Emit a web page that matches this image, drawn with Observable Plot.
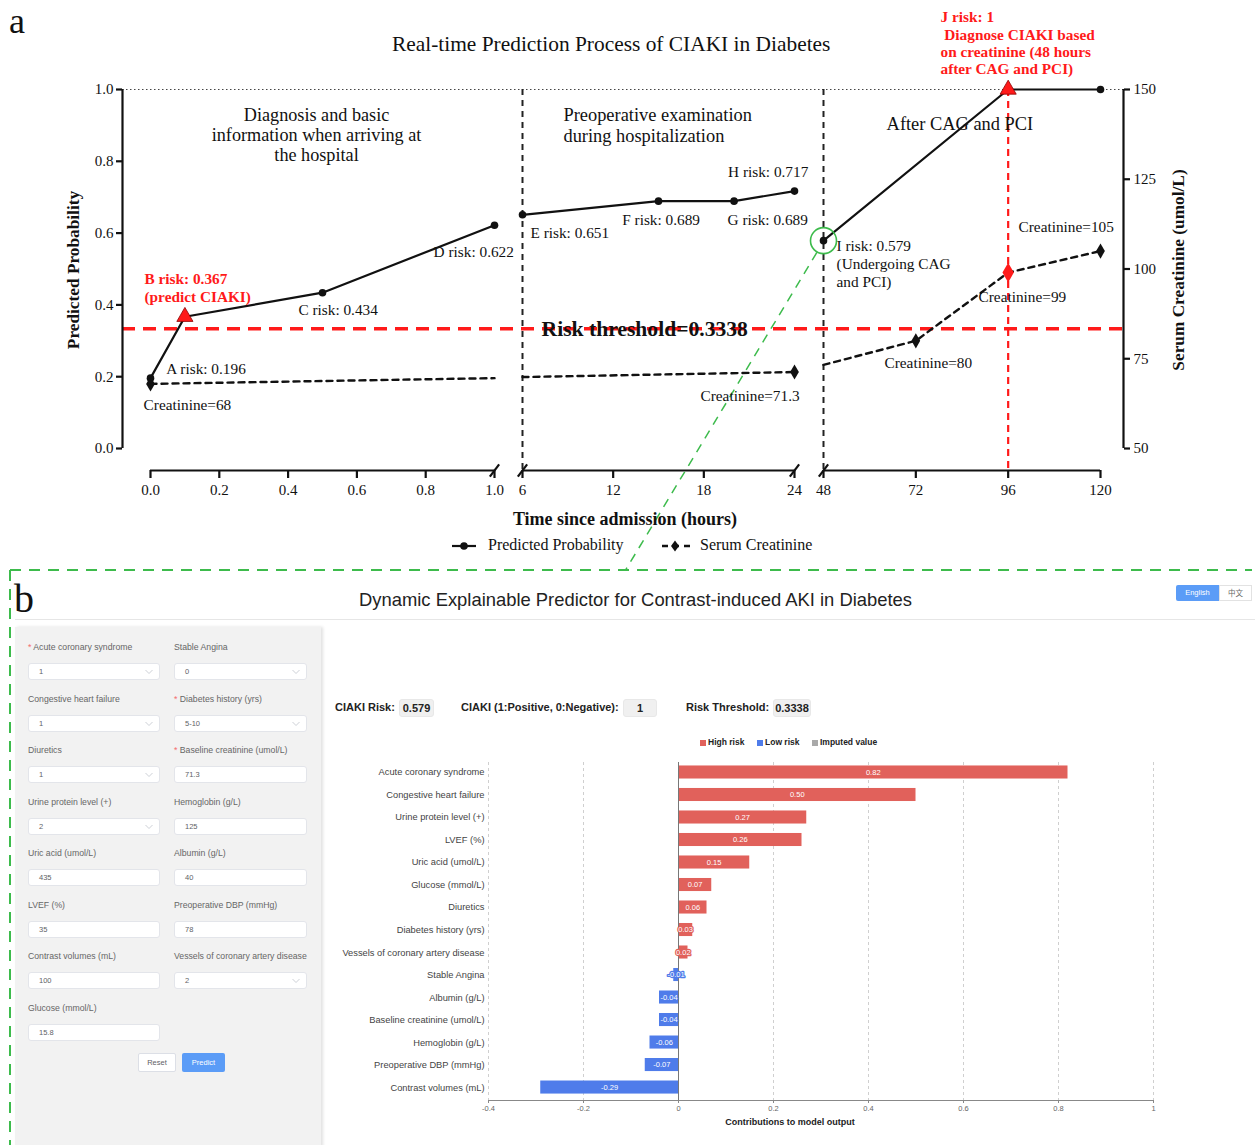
<!DOCTYPE html>
<html><head><meta charset="utf-8">
<script src="https://cdn.jsdelivr.net/npm/d3@7"></script>
<script src="https://cdn.jsdelivr.net/npm/@observablehq/plot@0.6"></script>
<style>
body{margin:0;background:#fff;}
#page{position:relative;width:1255px;height:1145px;overflow:hidden;background:#fff;font-family:"Liberation Sans",Arial,sans-serif;}
.abs{position:absolute;white-space:pre;}
.serif{font-family:"Liberation Serif","Times New Roman",serif;}
.flabel{font-size:8.7px;color:#666;}
.fbox{position:absolute;height:17px;background:#fff;border:1px solid #e3e5ea;border-radius:3px;box-sizing:border-box;font-size:7.5px;color:#606266;line-height:15px;padding-left:10px;}
.rlab{font-size:11px;font-weight:bold;color:#222;}
.rbox{position:absolute;height:18px;background:#f0f0f0;border:1px solid #e8e8e8;border-radius:3px;box-sizing:border-box;font-size:11px;font-weight:bold;color:#222;line-height:16px;text-align:center;}
</style></head>
<body><div id="page"></div>
<script>
// ---------------- data: panel a ----------------
const probTime  = [0, 0.1, 0.5, 1, 6, 15, 20, 24, 48, 96, 120];
const probValue = [0.196, 0.367, 0.434, 0.622, 0.651, 0.689, 0.689, 0.717, 0.579, 1, 1];
const probPhase = [1, 1, 1, 1, 2, 2, 2, 2, 3, 3, 3];
const probKey   = ["A", "B", "C", "D", "E", "F", "G", "H", "I", "J", ""];
const alertKeys = ["B", "J"];
const focusKey  = "I";

const creatTime     = [0, 1, 6, 24, 48, 72, 96, 120];
const creatValue    = [68, 69.6, 69.9, 71.3, 73.3, 80, 99, 105];
const creatPhase    = [1, 1, 2, 2, 3, 3, 3, 3];
const creatMeasured = [true, false, false, true, false, true, true, true];
const creatAlertTime = 96;

const riskThreshold = 0.3338;
const phaseBreaks = [6, 48];
const diagnosisTime = 96;
const xTicks = [0, 0.2, 0.4, 0.6, 0.8, 1.0, 6, 12, 18, 24, 48, 72, 96, 120];
const axisSegFrom = [0, 6, 48];
const axisSegTo   = [1, 24, 120];
const axisBreaks  = [1, 6, 24, 48];
const yTicks = [0, 0.2, 0.4, 0.6, 0.8, 1.0];
const creatTicks = [50, 75, 100, 125, 150];

// annotation texts with anchor (time, probability)
const noteText = ["A risk: 0.196", "Creatinine=68", "C risk: 0.434", "D risk: 0.622", "E risk: 0.651",
  "F risk: 0.689", "G risk: 0.689", "H risk: 0.717", "I risk: 0.579\n(Undergoing CAG\nand PCI)",
  "Creatinine=71.3", "Creatinine=80", "Creatinine=99", "Creatinine=105"];
const noteTime = [0.046, -0.02, 0.43, 0.823, 6.53, 12.6, 19.57, 19.6, 51.4, 17.78, 63.86, 88.3, 98.7];
const noteProb = [0.241, 0.143, 0.408, 0.567, 0.620, 0.656, 0.656, 0.790, 0.584, 0.1685, 0.258, 0.444, 0.639];

const alertText = ["B risk: 0.367\n(predict CIAKI)", "J risk: 1\n Diagnose CIAKI based\non creatinine (48 hours\nafter CAG and PCI)"];
const alertTime = [-0.0174, 78.41];
const alertProb = [0.4916, 1.2214];

const phaseText = ["Diagnosis and basic\ninformation when arriving at\nthe hospital", "Preoperative examination\nduring hospitalization", "After CAG and PCI"];
const phaseTime = [0.4826, 8.71, 64.4];
const phaseProb = [0.951, 0.951, 0.926];
const phaseAnchor = ["middle", "start", "start"];

const thresholdLabel = "Risk threshold=0.3338";
const thresholdLabelTime = 7.26;

// connector from circled point I to panel b
const connFrom = {time: 42.5, prob: 0.546};
const connTo = {time: 12.8, prob: -0.34};

// ---------------- data: panel b ----------------
const features = ["Acute coronary syndrome", "Congestive heart failure", "Urine protein level (+)", "LVEF (%)",
  "Uric acid (umol/L)", "Glucose (mmol/L)", "Diuretics", "Diabetes history (yrs)",
  "Vessels of coronary artery disease", "Stable Angina", "Albumin (g/L)", "Baseline creatinine (umol/L)",
  "Hemoglobin (g/L)", "Preoperative DBP (mmHg)", "Contrast volumes (mL)"];
const contributions = [0.82, 0.50, 0.27, 0.26, 0.15, 0.07, 0.06, 0.03, 0.02, -0.01, -0.04, -0.04, -0.06, -0.07, -0.29];
const barTicks = [-0.4, -0.2, 0, 0.2, 0.4, 0.6, 0.8, 1];
const riskClasses = ["High risk", "Low risk", "Imputed value"];

const formLabels = ["Acute coronary syndrome", "Stable Angina", "Congestive heart failure", "Diabetes history (yrs)",
  "Diuretics", "Baseline creatinine (umol/L)", "Urine protein level (+)", "Hemoglobin (g/L)",
  "Uric acid (umol/L)", "Albumin (g/L)", "LVEF (%)", "Preoperative DBP (mmHg)",
  "Contrast volumes (mL)", "Vessels of coronary artery disease", "Glucose (mmol/L)"];
const formValues = ["1", "0", "1", "5-10", "1", "71.3", "2", "125", "435", "40", "35", "78", "100", "2", "15.8"];
const formSelect = [true, true, true, true, true, false, true, false, false, false, false, false, false, true, false];
const formRequired = [true, false, false, true, false, true, false, false, false, false, false, false, false, false, false];

const resultLabels = ["CIAKI Risk:", "CIAKI (1:Positive, 0:Negative):", "Risk Threshold:"];
const resultValues = ["0.579", "1", "0.3338"];

// ---------------- styles ----------------
const RED = "#ff1a1a";
const GREEN = "#3dbb4c";
const BAR_RED = "#e1615b";
const BAR_BLUE = "#4f7cea";
const SERIF = "'Liberation Serif','Times New Roman',serif";

const page = document.getElementById("page");
function add(html) { page.insertAdjacentHTML("beforeend", html); }

// ================= PANEL A =================
const probRows = probTime.map((t, i) => ({time: t, prob: probValue[i], phase: probPhase[i], key: probKey[i]}));
const creatRows = creatTime.map((t, i) => ({time: t, value: creatValue[i], phase: creatPhase[i], measured: creatMeasured[i]}));
const noteRows = noteText.map((s, i) => ({text: s, time: noteTime[i], prob: noteProb[i]}));
const alertRows = alertText.map((s, i) => ({text: s, time: alertTime[i], prob: alertProb[i]}));
const phaseRows = phaseText.map((s, i) => ({text: s, time: phaseTime[i], prob: phaseProb[i], anchor: phaseAnchor[i]}));
const segRows = axisSegFrom.map((f, i) => ({from: f, to: axisSegTo[i]}));

const frameA = {width: 1255, height: 570, marginTop: 89, marginBottom: 100, marginLeft: 122, marginRight: 132};
const xA = {type: "linear", domain: [0, 1, 6, 24, 48, 120], range: [150, 494, 522, 794, 823, 1100]};
const breakSymbol = {draw(ctx, size) { const s = Math.sqrt(size) / 2; ctx.moveTo(-s * 0.75, s); ctx.lineTo(s * 0.75, -s); }};

const plotA = Plot.plot({
  ...frameA,
  style: {background: "transparent", fontFamily: SERIF, overflow: "visible", color: "#111"},
  x: xA,
  y: {domain: [0, 1], insetBottom: 22},
  marks: [
    Plot.ruleY([1], {stroke: "#444", strokeWidth: 1, strokeDasharray: "1.5,2.5"}),
    Plot.ruleX(phaseBreaks, {stroke: "#222", strokeWidth: 2, strokeDasharray: "6,5"}),
    Plot.ruleX([diagnosisTime], {stroke: RED, strokeWidth: 2.2, strokeDasharray: "7,5"}),
    Plot.ruleY([riskThreshold], {stroke: RED, strokeWidth: 3.5, strokeDasharray: "13,8"}),
    // broken x axis
    Plot.ruleY(segRows, {x1: "from", x2: "to", y: () => 0, dy: 22, stroke: "#111", strokeWidth: 2.2}),
    Plot.dot(axisBreaks, {x: d => d, y: () => 0, dy: 22, symbol: breakSymbol, r: 7, fill: "none", stroke: "#111", strokeWidth: 2.2}),
    Plot.axisX({ticks: xTicks, tickFormat: d => d <= 1 ? d.toFixed(1) : String(d), tickSize: 8, tickPadding: 6, strokeWidth: 2.2, fontSize: 15, fill: "#111", label: null}),
    // left axis
    Plot.ruleX([0], {y1: 0, y2: 1, dx: -28, stroke: "#111", strokeWidth: 2.2}),
    Plot.axisY({ticks: yTicks, tickFormat: d3.format(".1f"), tickSize: 6, tickPadding: 3, strokeWidth: 2.2, fontSize: 15, fill: "#111", label: null}),
    // connector to panel b
    Plot.link([{a: connFrom, b: connTo}], {x1: d => d.a.time, y1: d => d.a.prob, x2: d => d.b.time, y2: d => d.b.prob, stroke: GREEN, strokeWidth: 1.5, strokeDasharray: "9,7"}),
    // predicted probability series
    Plot.line(probRows, {x: "time", y: "prob", z: "phase", stroke: "#111", strokeWidth: 2.2}),
    Plot.dot(probRows.filter(d => !alertKeys.includes(d.key)), {x: "time", y: "prob", r: 3.8, fill: "#111"}),
    Plot.dot(probRows.filter(d => alertKeys.includes(d.key)), {x: "time", y: "prob", symbol: "triangle", r: 6, fill: RED, stroke: "#8b0000", strokeWidth: 0.8}),
    Plot.dot(probRows.filter(d => d.key === focusKey), {x: "time", y: "prob", r: 13, fill: "none", stroke: GREEN, strokeWidth: 1.6}),
    // annotations
    Plot.text(phaseRows.filter(d => d.anchor === "middle"), {x: "time", y: "prob", text: "text", textAnchor: "middle", lineAnchor: "top", fontSize: 18.2, lineHeight: 1.1, fill: "#111"}),
    Plot.text(phaseRows.filter(d => d.anchor === "start"), {x: "time", y: "prob", text: "text", textAnchor: "start", lineAnchor: "top", fontSize: 18.4, lineHeight: 1.1, fill: "#111"}),
    Plot.text(noteRows, {x: "time", y: "prob", text: "text", textAnchor: "start", lineAnchor: "top", fontSize: 15.3, lineHeight: 1.15, fill: "#111"}),
    Plot.text(alertRows, {x: "time", y: "prob", text: "text", textAnchor: "start", lineAnchor: "top", fontSize: 15.3, fontWeight: "bold", lineHeight: 1.13, fill: RED}),
    Plot.text([thresholdLabel], {x: () => thresholdLabelTime, y: () => riskThreshold, text: d => d, textAnchor: "start", fontSize: 21.6, fontWeight: "bold", fill: "#111"}),
    // axis titles
    Plot.text(["Predicted Probability"], {frameAnchor: "left", text: d => d, textAnchor: "middle", rotate: -90, dx: -49, dy: -10, fontSize: 17.3, fontWeight: "bold", fill: "#111"}),
    Plot.text(["Time since admission (hours)"], {frameAnchor: "bottom", text: d => d, textAnchor: "middle", dx: 2, dy: 54, fontSize: 18, fontWeight: "bold", fill: "#111"})
  ]
});

const plotA2 = Plot.plot({
  ...frameA,
  style: {background: "transparent", fontFamily: SERIF, overflow: "visible", color: "#111"},
  x: {...xA, axis: null},
  y: {domain: [50, 150], insetBottom: 22},
  marks: [
    Plot.line(creatRows, {x: "time", y: "value", z: "phase", stroke: "#111", strokeWidth: 2.4, strokeDasharray: "6,5"}),
    Plot.dot(creatRows.filter(d => d.measured && d.time !== creatAlertTime), {x: "time", y: "value", symbol: "diamond", r: 4.6, fill: "#111"}),
    Plot.dot(creatRows.filter(d => d.time === creatAlertTime), {x: "time", y: "value", symbol: "diamond", r: 6, fill: RED}),
    Plot.ruleX([120], {y1: 50, y2: 150, dx: 23, stroke: "#111", strokeWidth: 2.2}),
    Plot.axisY({anchor: "right", ticks: creatTicks, tickSize: 6, tickPadding: 4, strokeWidth: 2.2, fontSize: 15, fill: "#111", label: null}),
    Plot.text(["Serum Creatinine (umol/L)"], {frameAnchor: "right", text: d => d, textAnchor: "middle", rotate: -90, dx: 55, dy: -10, fontSize: 17.3, fontWeight: "bold", fill: "#111"})
  ]
});

const wrapA = document.createElement("div");
wrapA.style.cssText = "position:absolute;left:0;top:0;width:1255px;height:570px;";
plotA.style.position = "absolute"; plotA.style.left = "0"; plotA.style.top = "0";
plotA2.style.position = "absolute"; plotA2.style.left = "0"; plotA2.style.top = "0";
wrapA.appendChild(plotA); wrapA.appendChild(plotA2);
page.appendChild(wrapA);

add(`<div class="abs serif" style="left:9px;top:1px;font-size:36px;line-height:40px;color:#111;">a</div>`);
add(`<div class="abs serif" style="left:392px;top:32px;font-size:21.4px;color:#111;">Real-time Prediction Process of CIAKI in Diabetes</div>`);
// legend a
add(`<svg class="abs" style="left:450px;top:538px" width="28" height="16"><line x1="2" y1="8" x2="26" y2="8" stroke="#111" stroke-width="2.2"/><circle cx="14" cy="8" r="3.8" fill="#111"/></svg>`);
add(`<div class="abs serif" style="left:488px;top:536px;font-size:16px;color:#111;">Predicted Probability</div>`);
add(`<svg class="abs" style="left:660px;top:538px" width="32" height="16"><line x1="2" y1="8" x2="30" y2="8" stroke="#111" stroke-width="2.4" stroke-dasharray="6,5"/><path d="M15,2.5 L19,8 L15,13.5 L11,8 Z" fill="#111"/></svg>`);
add(`<div class="abs serif" style="left:700px;top:536px;font-size:16px;color:#111;">Serum Creatinine</div>`);

// ================= PANEL B =================
// dashed green frame
add(`<svg class="abs" style="left:0;top:566px" width="1255" height="579"><line x1="10" y1="4" x2="1252" y2="4" stroke="${GREEN}" stroke-width="2" stroke-dasharray="11,8"/><line x1="10" y1="4" x2="10" y2="579" stroke="${GREEN}" stroke-width="2" stroke-dasharray="11,8"/></svg>`);
add(`<div class="abs serif" style="left:14px;top:575px;font-size:40px;color:#111;">b</div>`);
add(`<div class="abs" style="left:359px;top:589px;font-size:18.4px;color:#222;">Dynamic Explainable Predictor for Contrast-induced AKI in Diabetes</div>`);
add(`<div class="abs" style="left:1176px;top:585px;width:43px;height:16px;background:#5b9cf7;border-radius:2px 0 0 2px;color:#fff;font-size:7.5px;line-height:16px;text-align:center;">English</div>`);
add(`<div class="abs" style="left:1219px;top:585px;width:33px;height:16px;box-sizing:border-box;border:1px solid #e2e2e2;background:#fff;color:#666;font-size:7.5px;line-height:14px;text-align:center;font-family:'Noto Sans CJK SC',sans-serif;">中文</div>`);
add(`<div class="abs" style="left:15px;top:619px;width:1240px;height:1px;background:#e6e6e6;"></div>`);
// form panel
add(`<div class="abs" style="left:15px;top:627px;width:306px;height:520px;background:#f2f2f2;box-shadow:2px 0 3px rgba(0,0,0,0.12);"></div>`);
formLabels.forEach((lab, i) => {
  const col = i % 2, row = Math.floor(i / 2);
  const left = col ? 174 : 28, w = col ? 133 : 132;
  const ly = 642 + row * 51.57, iy = 663 + row * 51.57;
  const star = formRequired[i] ? `<span style="color:#f56c6c">* </span>` : "";
  add(`<div class="abs flabel" style="left:${formRequired[i] ? left : left}px;top:${ly}px;">${star}${lab}</div>`);
  const chev = formSelect[i] ? `<svg style="position:absolute;right:6px;top:5px" width="8" height="6"><polyline points="0.5,1 4,4.5 7.5,1" fill="none" stroke="#c0c4cc" stroke-width="0.8"/></svg>` : "";
  add(`<div class="fbox" style="left:${left}px;top:${iy}px;width:${w}px;">${formValues[i]}${chev}</div>`);
});
add(`<div class="abs" style="left:138px;top:1053px;width:38px;height:19px;box-sizing:border-box;border:1px solid #dcdfe6;background:#fff;border-radius:2px;font-size:7.5px;color:#606266;line-height:17px;text-align:center;">Reset</div>`);
add(`<div class="abs" style="left:182px;top:1053px;width:43px;height:19px;background:#5b9cf7;border-radius:2px;font-size:7.5px;color:#fff;line-height:19px;text-align:center;">Predict</div>`);
// result row
const resultLabelX = [335, 461, 686], resultBoxX = [399, 623, 773], resultBoxW = [35, 34, 38];
resultLabels.forEach((s, i) => {
  add(`<div class="abs rlab" style="left:${resultLabelX[i]}px;top:701px;">${s}</div>`);
  add(`<div class="rbox" style="left:${resultBoxX[i]}px;top:699px;width:${resultBoxW[i]}px;">${resultValues[i]}</div>`);
});
// bar legend
const legendColors = [BAR_RED, BAR_BLUE, "#a9a9a9"], legendX = [700, 757, 812];
riskClasses.forEach((s, i) => {
  add(`<div class="abs" style="left:${legendX[i]}px;top:740px;width:6px;height:6px;background:${legendColors[i]};"></div>`);
  add(`<div class="abs" style="left:${legendX[i] + 8}px;top:737px;font-size:8.5px;font-weight:bold;color:#222;">${s}</div>`);
});

const barRows = features.map((f, i) => ({feature: f, value: contributions[i], risk: contributions[i] >= 0 ? riskClasses[0] : riskClasses[1]}));
const plotB = Plot.plot({
  width: 933, height: 390, marginTop: 12, marginBottom: 40, marginLeft: 166, marginRight: 102,
  style: {background: "transparent", fontFamily: "'Liberation Sans',Arial,sans-serif", overflow: "visible"},
  x: {domain: [-0.4, 1]},
  y: {domain: features, paddingInner: 0.42, paddingOuter: 0.22, align: 0.35, round: false},
  color: {domain: riskClasses, range: legendColors},
  marks: [
    Plot.gridX({ticks: barTicks, stroke: "#cfcfcf", strokeOpacity: 1, strokeDasharray: "3,3"}),
    Plot.barX(barRows, {x: "value", y: "feature", fill: "risk"}),
    Plot.ruleX([0], {stroke: "#777"}),
    Plot.text(barRows, {x: d => d.value / 2, y: "feature", text: d => d.value.toFixed(2), fill: "white", stroke: "risk", strokeWidth: 2.5, paintOrder: "stroke", fontSize: 7.5}),
    Plot.frame({anchor: "bottom", stroke: "#888"}),
    Plot.axisX({ticks: barTicks, tickFormat: d => String(d), tickSize: 3, tickPadding: 2, fontSize: 7.5, fill: "#666", stroke: "#888", label: null}),
    Plot.axisY({tickSize: 0, tickPadding: 4, fontSize: 9.3, fill: "#444", label: null}),
    Plot.text(["Contributions to model output"], {frameAnchor: "bottom", text: d => d, dx: -31, dy: 24, fontWeight: "bold", fontSize: 9, fill: "#222"})
  ]
});
plotB.style.position = "absolute"; plotB.style.left = "322px"; plotB.style.top = "750px";
page.appendChild(plotB);
</script>
</body></html>
